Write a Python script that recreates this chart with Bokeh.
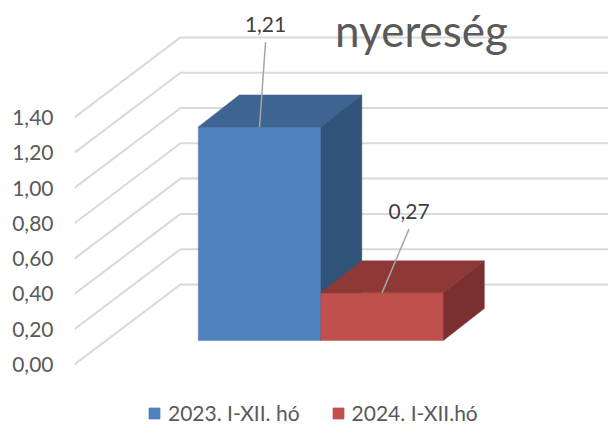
from bokeh.plotting import figure
from bokeh.models import Range1d, FixedTicker, Label, Legend, LegendItem
from bokeh.embed import file_html
from bokeh.resources import INLINE

# --- data ---
series = ["2023. I-XII. hó", "2024. I-XII.hó"]
values = [1.21, 0.27]
tick_values = [0.0, 0.2, 0.4, 0.6, 0.8, 1.0, 1.2, 1.4]
tick_labels = ["0,00", "0,20", "0,40", "0,60", "0,80", "1,00", "1,20", "1,40"]
title_text = "nyereség"

# --- style / layout ---
FONT = "Lato"
TXT = "#595959"
face = ["#4f81bd", "#c0504d"]
top = ["#3e6491", "#8e3937"]
side = ["#315379", "#7a302e"]
W, H = 608, 425
LEFT = 74                    # frame left within the figure
PX_PER_UNIT = 176.5          # vertical pixels per value unit
Y0_FROM_TOP = 364            # value 0 (front of wall) below the figure's top
WALL_DX, WALL_DY = 106, 80   # depth of the 3-D box in pixels
BAR_START, BAR_W = 92, 122.5
FRONT_DX, FRONT_DY = 31.8, 24  # bar front face, offset from the wall's front edge
BACK_DX, BACK_DY = 72.8, 56    # bar back face
label_off = [(6, 85), (27, 64)]  # leader-line offset from its anchor, pixels (up)
LABEL_GAP = 10

p = figure(width=W, height=H, output_backend="svg", toolbar_location=None,
           x_range=Range1d(0, W - LEFT),
           y_range=Range1d(-(H - Y0_FROM_TOP) / PX_PER_UNIT, Y0_FROM_TOP / PX_PER_UNIT),
           x_axis_location=None, y_axis_location="left",
           min_border_left=LEFT, min_border_right=0, min_border_top=0, min_border_bottom=0)
p.outline_line_color = None
p.grid.visible = False
p.background_fill_color = "white"

ax = p.yaxis[0]
ax.ticker = FixedTicker(ticks=tick_values)
ax.major_label_overrides = dict(zip(tick_values, tick_labels))
ax.axis_line_color = None
ax.major_tick_line_color = None
ax.minor_tick_line_color = None
ax.major_tick_in = 0
ax.major_tick_out = 0
ax.major_label_standoff = 21
ax.major_label_text_font = FONT
ax.major_label_text_font_size = "21px"
ax.major_label_text_color = TXT


def px(dy):
    return dy / PX_PER_UNIT


# wall gridlines
p.multi_line(
    xs=[[0, WALL_DX, W - LEFT] for _ in tick_values],
    ys=[[v, v + px(WALL_DY), v + px(WALL_DY)] for v in tick_values],
    line_color="#d9d9d9", line_width=2)

# bars
items = []
for i, v in enumerate(values):
    x0 = BAR_START + i * BAR_W
    x1 = x0 + BAR_W
    fx, fy = FRONT_DX, px(FRONT_DY)
    bx, by = BACK_DX, px(BACK_DY)
    r = p.patch([x0 + fx, x1 + fx, x1 + fx, x0 + fx], [fy, fy, v + fy, v + fy],
                fill_color=face[i], line_color=face[i], line_width=0.5)
    p.patch([x0 + fx, x1 + fx, x1 + bx, x0 + bx], [v + fy, v + fy, v + by, v + by],
            fill_color=top[i], line_color=top[i], line_width=0.5)
    p.patch([x1 + fx, x1 + bx, x1 + bx, x1 + fx], [fy, by, v + by, v + fy],
            fill_color=side[i], line_color=side[i], line_width=0.5)
    items.append(LegendItem(label=series[i], renderers=[r]))

# leader lines and data labels
for i, v in enumerate(values):
    ax_x = BAR_START + (i + 0.5) * BAR_W + FRONT_DX
    ax_y = v + px(FRONT_DY)
    dx, dy = label_off[i]
    p.line([ax_x, ax_x + dx], [ax_y, ax_y + px(dy)], line_color="#a6a6a6", line_width=1.5)
    p.add_layout(Label(x=ax_x + dx, y=ax_y + px(dy + LABEL_GAP),
                       text=f"{v:.2f}".replace(".", ","),
                       text_font=FONT, text_font_size="21px", text_color="#404040",
                       text_align="center", text_baseline="bottom"))

# title
p.add_layout(Label(x=347, y=px(Y0_FROM_TOP - 29), text=title_text,
                   text_font=FONT, text_font_size="44px", text_color=TXT,
                   text_align="center", text_baseline="alphabetic"))

legend = Legend(items=items, orientation="horizontal", location=(73, 0),
                border_line_color=None, background_fill_alpha=0,
                padding=0, margin=0, spacing=31, glyph_width=14, glyph_height=14,
                label_text_font=FONT, label_text_font_size="21px", label_text_color=TXT,
                label_standoff=7)
p.add_layout(legend, "center")

open("out.html", "w").write(file_html(p, INLINE))
